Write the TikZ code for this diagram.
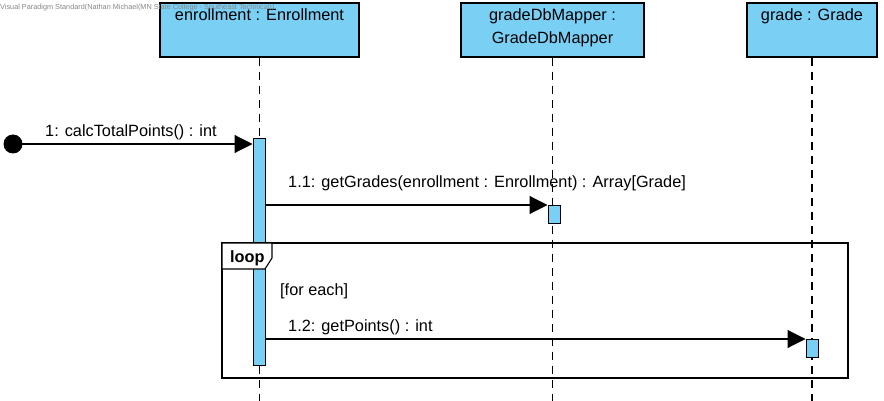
\documentclass[tikz,border=0pt]{standalone}
\usepackage{fontspec}
\setmainfont{Liberation Sans}
\usetikzlibrary{arrows.meta}
\definecolor{vpblue}{RGB}{122,207,245}
\definecolor{wmgray}{RGB}{135,135,135}
\begin{document}
\begin{tikzpicture}[x=1pt,y=-1pt,
  lbox/.style={draw=black, fill=vpblue, line width=1.2pt, inner sep=0pt, minimum height=54pt},
  act/.style={draw=black, fill=vpblue, line width=1pt, minimum width=12pt, inner sep=0pt, anchor=north},
  lifeline/.style={line width=1.1pt, dash pattern=on 8pt off 6pt},
  msg/.style={line width=1.1pt, -{Triangle[length=18pt,width=18pt]}},
  txt/.style={font=\fontsize{16.3}{19}\selectfont, inner sep=0pt, anchor=base},
  ttl/.style={txt},
  frame/.style={draw=black, line width=1.1pt},
  wm/.style={font=\fontsize{7.3}{8}\selectfont, text=wmgray, inner sep=0pt, anchor=base west}
]
\useasboundingbox (0,0) rectangle (884,401);
\fill[white] (0,0) rectangle (884,401);

% lifeline heads
\node[lbox, minimum width=199pt] (enr) at (259.5,30) {};
\node[lbox, minimum width=183pt] (gdm) at (552.5,30) {};
\node[lbox, minimum width=130pt] (grd) at (812,30) {};
\node[ttl] (enrT) at (enr.center |- 0,21) {enrollment : Enrollment};
\node[ttl] (gdmT1) at (gdm.center |- 0,21) {gradeDbMapper :};
\node[ttl] (gdmT2) at (gdm.center |- 0,44) {GradeDbMapper};
\node[ttl] (grdT) at (grd.center |- 0,21) {grade : Grade};

% lifelines
\coordinate (enrE) at (enr.south |- 0,401);
\coordinate (gdmE) at (gdm.south |- 0,401);
\coordinate (grdE) at (grd.south |- 0,401);
\draw[lifeline] (enr.south) -- (enrE);
\draw[lifeline] (gdm.south) -- (gdmE);
\draw[lifeline] (grd.south) -- (grdE);

% activations
\node[act, minimum height=227pt] (a1) at (259,138) {};
\node[act, minimum height=18pt] (a2) at (554,205) {};
\node[act, minimum height=18pt] (a3) at (812,339) {};

% start point
\node[circle, fill=black, minimum size=19pt, inner sep=0pt] (start) at (13,144) {};

% messages
\draw[msg] (start.center) -- (a1.west |- start.center);
\node[txt, anchor=base west] (m1) at (45,137) {1: calcTotalPoints() : int};
\draw[msg] (a1.east |- a2.north) -- (a2.north west);
\node[txt, anchor=base west] (m2) at (288,187) {1.1: getGrades(enrollment : Enrollment) : Array[Grade]};
\draw[msg] (a1.east |- a3.north) -- (a3.north west);
\node[txt, anchor=base west] (m3) at (288,331) {1.2: getPoints() : int};

% loop fragment
\draw[frame] (222,243) rectangle (848,378);
\draw[frame, fill=white] (222,243) -- (272,243) -- (272,258) -- (265,269) -- (222,269) -- cycle;
\node[txt, anchor=base west, font=\fontsize{16.3}{19}\selectfont\bfseries] (loopT) at (230,262) {loop};
\node[txt, anchor=base west] (guard) at (280,295) {[for each]};

% watermark
\node[wm] (wmark) at (0,10) {Visual Paradigm Standard(Nathan Michael(MN State College - Southeast Technical))};
\end{tikzpicture}
\end{document}
